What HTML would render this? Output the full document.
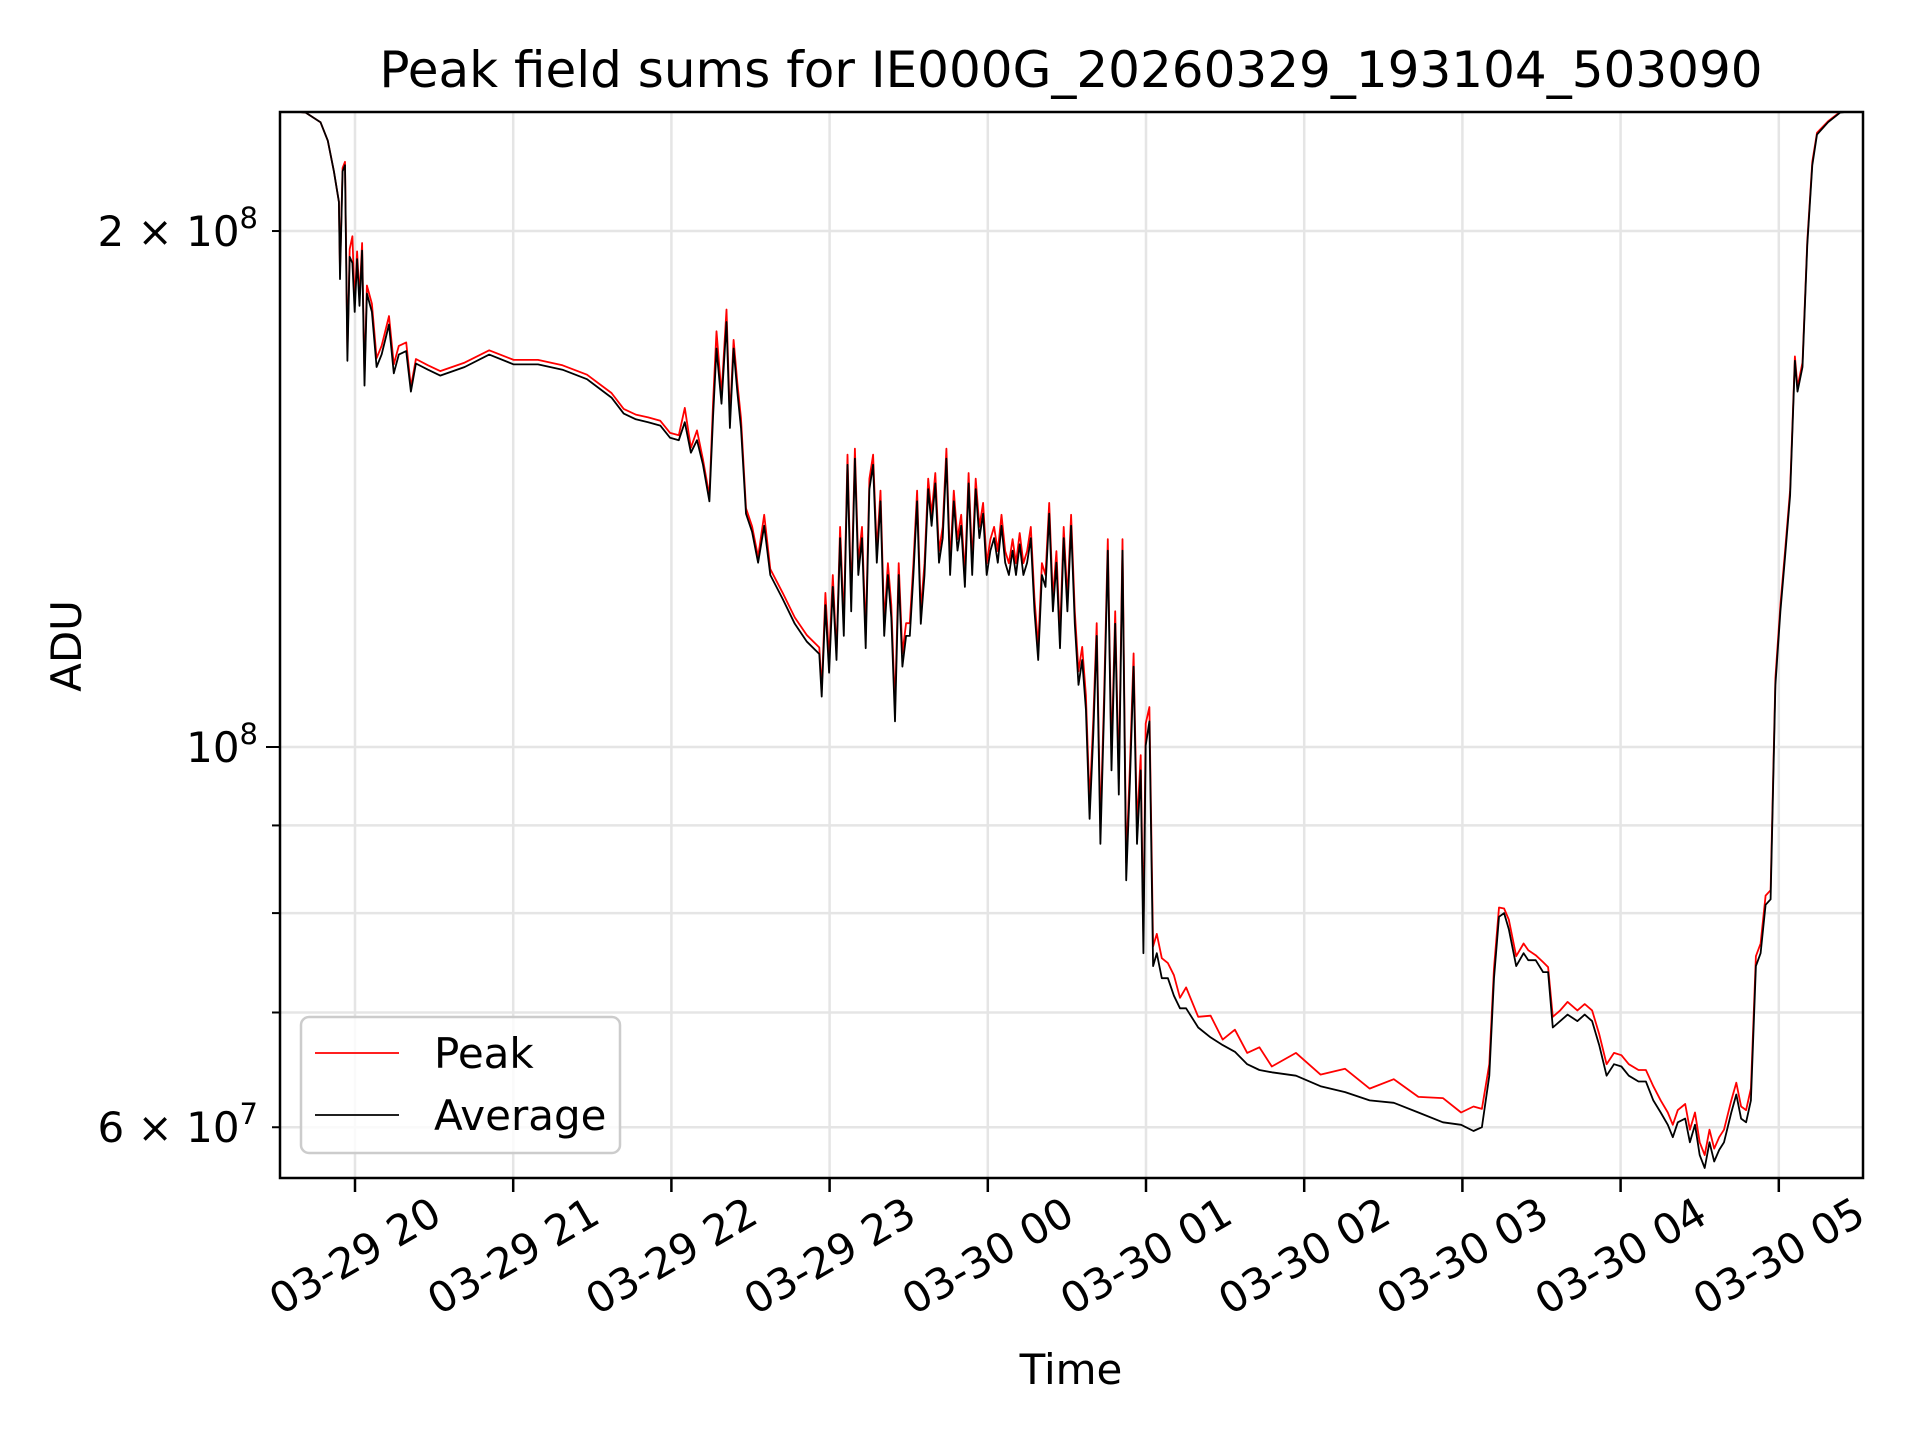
<!DOCTYPE html>
<html><head><meta charset="utf-8"><style>
html,body{margin:0;padding:0;background:#fff}
svg{display:block;font-family:"DejaVu Sans","Liberation Sans",sans-serif}
</style></head><body>
<svg id="chart" width="1920" height="1440" viewBox="0 0 1920 1440" xmlns="http://www.w3.org/2000/svg">
<rect x="0" y="0" width="1920" height="1440" fill="#fff"/>
<defs><clipPath id="clip"><rect x="280" y="112" width="1583" height="1066"/></clipPath></defs>
<text x="1071" y="87" font-size="50" text-anchor="middle">Peak field sums for IE000G_20260329_193104_503090</text>
<g id="grid"></g>
<g id="series" clip-path="url(#clip)"></g>
<rect x="280" y="112" width="1583" height="1066" fill="none" stroke="#000" stroke-width="2.5"/>
<g id="axes"></g>
<text x="0" y="0" font-size="42" text-anchor="middle" transform="translate(81,646) rotate(-90)">ADU</text>
<text x="1071" y="1384" font-size="42" text-anchor="middle">Time</text>
<g>
<rect x="301" y="1017" width="319" height="136" rx="8" fill="#fff" fill-opacity="0.8" stroke="#ccc" stroke-width="2.5"/>
<line x1="315" y1="1053" x2="399" y2="1053" stroke="#f00" stroke-width="1.8"/>
<text x="434" y="1068" font-size="42">Peak</text>
<line x1="315" y1="1115" x2="399" y2="1115" stroke="#000" stroke-width="1.8"/>
<text x="434" y="1130" font-size="42">Average</text>
</g>
</svg>
<script>
// minutes since 03-29 19:00
const times=[31.6,41.3,46.9,49.7,52.0,53.9,54.3,55.3,56.2,57.1,58.0,59.0,59.9,60.8,61.7,62.7,63.6,64.5,66.4,68.2,70.1,72.9,74.7,76.6,79.4,81.2,83.1,87.7,92.3,101.6,110.9,120.2,129.4,138.7,148.0,157.3,161.9,166.5,171.2,175.8,179.5,182.8,185.1,187.4,189.7,192.0,194.4,195.8,197.1,199.0,200.9,202.2,203.6,205.0,206.4,208.3,210.6,212.9,215.2,217.5,222.2,226.8,231.4,236.1,237.0,238.4,239.8,241.2,242.6,244.0,245.4,246.8,248.2,249.6,250.9,252.3,253.7,255.1,256.5,257.9,259.3,260.7,262.1,263.4,264.8,266.2,267.6,269.0,270.4,271.8,273.2,274.6,276.0,277.4,278.7,280.1,281.5,282.9,284.3,285.7,287.1,288.5,289.9,291.3,292.7,294.1,295.4,296.8,298.2,299.6,301.0,302.4,303.8,305.2,306.6,308.0,309.4,310.7,312.1,313.5,314.9,316.3,317.7,319.1,320.5,321.9,323.3,324.7,326.0,327.4,328.8,330.2,331.6,333.0,334.4,335.8,337.2,338.6,340.0,341.3,342.7,344.1,345.5,346.9,348.3,349.7,351.1,352.5,353.9,355.3,356.6,358.0,359.0,359.9,361.3,362.7,364.1,366.0,368.3,370.6,372.9,375.2,379.8,384.5,389.1,393.7,398.4,403.0,407.7,416.9,426.2,435.5,444.8,454.0,463.3,472.6,479.5,484.2,487.4,490.2,492.0,493.9,495.8,497.6,500.4,503.2,505.0,507.8,510.6,512.5,514.3,517.1,519.9,523.6,526.4,529.2,531.9,534.7,537.5,540.3,543.1,546.8,549.6,552.4,555.2,557.9,559.8,561.7,564.5,566.3,568.2,570.0,571.9,573.7,575.5,577.4,579.2,582.0,583.9,585.7,587.6,589.4,591.3,593.1,595.0,596.9,598.7,600.6,602.4,604.3,606.1,607.1,609.0,610.8,612.7,614.5,618.7,623.3,631.2];
// ADU in millions
const average=[235.3,234.5,231.5,225.8,216.7,208,187.5,216.7,218.5,168,193.2,191.6,179.4,192.6,180.9,194.8,162.5,183.9,179.4,166.6,169.4,176.4,165.2,169.4,170.2,161.2,167.4,166,164.7,166.6,169.4,167.2,167.2,166,163.9,159.9,156.5,155.3,154.7,154.0,151.5,151,154.7,148.5,151,146.1,139.1,156,170.8,158.6,177,153.5,170.8,161.2,153.5,136.8,133.5,128.1,134.6,126,122,118,115.2,113.3,107,121,110.5,124,112.4,132.4,116.1,146.1,120,147.3,126,132.4,114.2,141.4,146.1,128.1,139.1,116.1,126,119,103.5,126,111.4,116.1,116.1,126,139.1,118,126,141.4,134.6,142.5,128.1,132.4,147.3,126,139.1,130.2,134.6,124,142.5,126,141.4,132.4,136.8,126,130.2,132.4,128.1,134.6,128.1,126,130.2,126,131.3,126,128.1,132.4,120,112.4,126,124,136.8,120,128.1,114.2,132.4,120,134.6,118,108.7,112.4,105.2,90.8,101.8,116.1,87.8,105.2,130.2,96.9,118,93.8,130.2,83.6,95.4,111.4,87.8,96.9,75.8,100.2,103.5,74.5,75.8,73.3,73.3,71.6,70.4,70.4,68.6,67.7,67,66.4,65.3,64.8,64.6,64.3,63.4,62.9,62.2,62,61.2,60.4,60.2,59.7,60,64.3,73.3,79.6,80,78.3,74.5,75.8,75.1,75.1,73.9,73.9,68.6,69.2,69.8,69.2,69.8,69.2,67,64.3,65.3,65.1,64.3,63.8,63.8,62.2,61.2,60.2,59.2,60.4,60.7,58.8,60.2,57.8,56.8,58.8,57.3,58.2,58.8,61.2,62.7,60.7,60.4,62.2,74.5,75.8,80.9,81.5,108.7,120,129.2,140.2,168,161.2,166.6,196.4,218.5,227.7,231.5,234.5,235.3];
const peak=[235.3,234.5,231.5,225.8,216.7,208,189.5,217.7,219.5,170,195.2,198.6,181.4,194.6,182.9,196.8,164.5,185.9,181.4,168.6,171.4,178.4,167.2,171.4,172.2,162.2,168.4,167,165.7,167.6,170.4,168.2,168.2,167,164.9,160.9,157.5,156.3,155.7,155.0,152.5,152,157.7,149.5,153,147.1,140.1,159,174.8,160.6,180,155.5,172.8,163.2,155.5,137.8,134.5,129.1,136.6,127,123,119,116.2,114.3,108,123,112.5,126,113.4,134.4,118.1,148.1,122,149.3,128,134.4,116.2,143.4,148.1,130.1,141.1,118.1,128,121,105.5,128,113.4,118.1,118.1,128,141.1,120,128,143.4,136.6,144.5,130.1,134.4,149.3,128,141.1,132.2,136.6,126,144.5,128,143.4,134.4,138.8,128,132.2,134.4,130.1,136.6,130.1,128,132.2,128,133.3,128,130.1,134.4,122,114.4,128,126,138.8,122,130.1,116.2,134.4,122,136.6,120,110.7,114.4,107.2,92.8,103.8,118.1,89.8,107.2,132.2,98.9,120,95.8,132.2,85.6,97.4,113.4,89.8,98.9,77.8,103.2,105.5,76.5,77.8,75.3,74.8,73.6,71.4,72.4,69.6,69.7,67.5,68.4,66.3,66.8,65.1,66.3,64.4,64.9,63.2,64.0,62.5,62.4,61.2,61.7,61.5,65.3,74.3,80.6,80.5,79.3,75.5,76.8,76.1,75.6,74.9,74.4,69.6,70.2,71.0,70.2,70.8,70.2,68,65.3,66.3,66.1,65.3,64.8,64.8,63.4,62.2,61.2,60.2,61.4,61.9,59.8,61.2,58.8,57.8,59.8,58.3,59.2,59.8,62.2,63.7,61.7,61.4,63.2,75.5,76.8,81.9,82.5,109.7,121,130.2,141.2,169,162.2,167.6,197.4,219.5,228.2,231.8,234.7,235.3];
const xTickLabels=["03-29 20","03-29 21","03-29 22","03-29 23","03-30 00","03-30 01","03-30 02","03-30 03","03-30 04","03-30 05"];
const xTickMinutes=[60,120,180,240,300,360,420,480,540,600];
const yGridValues=[60,70,80,90,100,200];

const NS="http://www.w3.org/2000/svg";
function X(m){return 355+(m-60)*158.2/60;}
function Y(v){return 747-Math.log10(v/100)*1714;}
function mk(tag,attrs,parent){const e=document.createElementNS(NS,tag);for(const k in attrs)e.setAttribute(k,attrs[k]);parent.appendChild(e);return e;}
const grid=document.getElementById('grid'),axes=document.getElementById('axes'),series=document.getElementById('series');
xTickMinutes.forEach((m,i)=>{
  const x=X(m);
  const g=mk('line',{x1:x,y1:112,x2:x,y2:1178,stroke:'#e5e5e5','stroke-width':2.5},grid);
  
  
  const t=mk('line',{x1:x,y1:1178,x2:x,y2:1192,stroke:'#000','stroke-width':2.5},axes);
  
  
  const l=mk('text',{x:0,y:0,'font-size':42,'text-anchor':'middle','dominant-baseline':'central',transform:`translate(${x},1256) rotate(-30)`},axes);
  l.textContent=xTickLabels[i];
  
  
});
yGridValues.forEach(v=>{
  const y=Y(v);
  const g=mk('line',{x1:280,y1:y,x2:1863,y2:y,stroke:'#e5e5e5','stroke-width':2.5},grid);
  
  
  const t=mk('line',{x1:v===100?266:272,y1:y,x2:280,y2:y,stroke:'#000','stroke-width':2},axes);
  
  
});
function yLabel(v,pre,exp){
  const y=Y(v);
  const t=mk('text',{x:258,y:y+15,'font-size':42,'text-anchor':'end'},axes);
  
  
  const a=mk('tspan',{},t);a.textContent=pre+'10';
  const b=mk('tspan',{dy:-18,'font-size':29},t);b.textContent=exp;
}
yLabel(200,'2 × ','8');yLabel(100,'','8');yLabel(60,'6 × ','7');
function path(vals,color,name){
  const d=vals.map((v,i)=>(i?'L':'M')+X(times[i]).toFixed(1)+' '+Y(v).toFixed(1)).join(' ');
  const p=mk('path',{d:d,fill:'none',stroke:color,'stroke-width':1.8,'stroke-linejoin':'round'},series);
  
  
}
path(peak,'#f00','peak-line');
path(average,'#000','average-line');
</script>
</body></html>
